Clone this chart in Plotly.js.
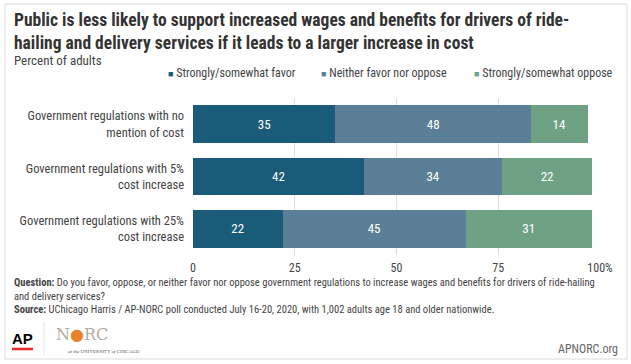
<!DOCTYPE html>
<html><head><meta charset="utf-8">
<script src="https://cdn.plot.ly/plotly-3.0.1.min.js"></script>
<style>body{margin:0;background:#fff}#c{width:631px;height:364px}</style>
</head><body><div id="c"></div>
<script>
const categories = ["Government regulations with no<br>mention of cost", "Government regulations with 5%<br>cost increase", "Government regulations with 25%<br>cost increase"];
const seriesNames = ["Strongly/somewhat favor", "Neither favor nor oppose", "Strongly/somewhat oppose"];
const favor = [35, 42, 22];
const neither = [48, 34, 45];
const oppose = [14, 22, 31];
const tickVals = [0, 25, 50, 75, 100];
const tickText = ["0", "25", "50", "75", "100%"];
const colors = ["#1a5b7a", "#5b7f96", "#6fa185"];

const L = 193, R = 31, T = 98, B = 109, W = 631 - L - R, H = 364 - T - B;
const px = x => (x - L) / W;
const py = y => 1 - (y - T) / H;
const font = "'Liberation Sans Narrow', 'Roboto Condensed', Roboto, sans-serif";

const values = [favor, neither, oppose];
const traces = values.map((v, i) => ({
  type: "bar", orientation: "h", name: seriesNames[i],
  y: categories, x: v, text: v.map(String), textposition: "inside", insidetextanchor: "middle",
  textfont: {family: font, size: 13, color: "#ffffff"},
  marker: {color: colors[i], line: {width: 0}},
  hoverinfo: "skip", showlegend: false
}));

const annotations = [
  {x: px(12), y: py(8), xanchor: "left", yanchor: "top", align: "left",
   text: "<b>Public is less likely to support increased wages and benefits for drivers of ride-<br>hailing and delivery services if it leads to a larger increase in cost</b>",
   font: {family: font, size: 17.5, color: "#333"}},
  {x: px(12), y: py(51), xanchor: "left", yanchor: "top", align: "left",
   text: "Percent of adults", font: {family: font, size: 13, color: "#444"}},
  {x: px(12), y: py(274), xanchor: "left", yanchor: "top", align: "left",
   text: "<b>Question:</b> Do you favor, oppose, or neither favor nor oppose government regulations to increase wages and benefits for drivers of ride-hailing<br>and delivery services?<br><b>Source:</b> UChicago Harris / AP-NORC poll conducted July 16-20, 2020, with 1,002 adults age 18 and older nationwide.",
   font: {family: font, size: 10.5, color: "#444"}},
  {x: px(10), y: py(338), xanchor: "left", yanchor: "middle",
   text: "<b>AP</b>", font: {family: "Arial, sans-serif", size: 15, color: "#000"}},
  {x: px(54), y: py(334), xanchor: "left", yanchor: "middle",
   text: "N<span style='color:#e8822a'>●</span>RC", font: {family: "'DejaVu Serif', serif", size: 16, color: "#b5aca2"}},
  {x: px(66), y: py(351), xanchor: "left", yanchor: "middle",
   text: "<i>at the</i> UNIVERSITY <i>of</i> CHICAGO", font: {family: "'Liberation Serif', serif", size: 5, color: "#555"}},
  {x: px(620), y: py(349), xanchor: "right", yanchor: "middle",
   text: "APNORC.org", font: {family: font, size: 12, color: "#666"}}
];
const legendX = [166, 319, 472];
seriesNames.forEach((n, i) => annotations.push({
  x: px(legendX[i]), y: py(73), xanchor: "left", yanchor: "middle",
  text: "<span style='color:" + colors[i] + ";font-size:9px'>■</span> " + n,
  font: {family: font, size: 12, color: "#444"}
}));
annotations.forEach(a => { a.xref = "paper"; a.yref = "paper"; a.showarrow = false; });

const layout = {
  width: 631, height: 364, barmode: "stack", bargap: 0.28,
  paper_bgcolor: "#fff", plot_bgcolor: "#fff",
  margin: {l: L, r: R, t: T, b: B},
  showlegend: false,
  xaxis: {range: [0, 100], tickvals: tickVals, ticktext: tickText, showgrid: true, gridcolor: "#dddddd",
    gridwidth: 1, zeroline: false, showline: false, ticks: "", ticklabelstandoff: 4,
    tickfont: {family: font, size: 12, color: "#444"}, fixedrange: true},
  yaxis: {autorange: "reversed", showgrid: false, ticks: "", ticklen: 0, ticklabelstandoff: 8,
    tickfont: {family: font, size: 12.5, color: "#444"}, fixedrange: true},
  font: {family: font},
  shapes: [
    {type: "rect", xref: "paper", yref: "paper", x0: px(5), x1: px(627), y0: py(359), y1: py(4),
     line: {color: "#dcdcdc", width: 1}, fillcolor: "rgba(0,0,0,0)"},
    {type: "line", xref: "paper", yref: "paper", x0: px(12), x1: px(33), y0: py(349), y1: py(349), line: {color: "#e8282b", width: 2.5}},
    {type: "line", xref: "paper", yref: "paper", x0: px(44), x1: px(44), y0: py(322), y1: py(356), line: {color: "#e5e5e5", width: 1}}
  ],
  annotations: annotations
};

Plotly.newPlot("c", traces, layout, {staticPlot: true, displayModeBar: false});
</script></body></html>
